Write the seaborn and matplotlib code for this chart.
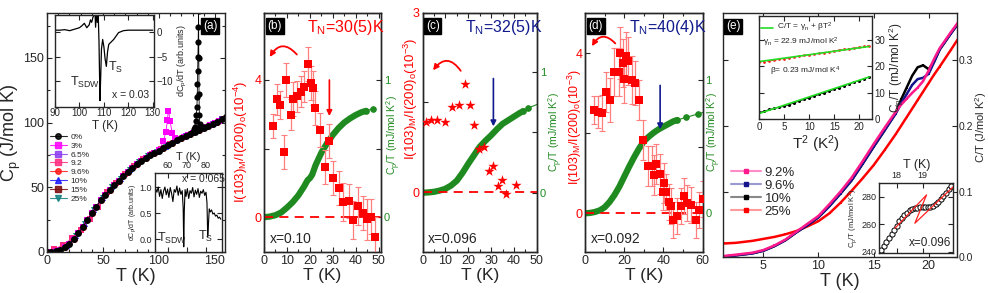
import numpy as np
import seaborn as sns
import matplotlib.pyplot as plt
from matplotlib.lines import Line2D
from matplotlib.patches import FancyArrowPatch
from matplotlib.ticker import MultipleLocator

RED = '#ff0000'
ERR = '#ff7f7f'
GREEN = '#1f8a1f'
NAVY = '#101a8c'

# ---------------- (a) Cp(T) for all dopings ----------------
t_a = [0, 2, 4, 6, 8, 10, 12, 14, 16, 18, 20, 22, 24, 26, 28, 30, 32, 34, 36, 38,
       40, 42, 44, 46, 48, 50, 52, 54, 56, 58, 60, 62, 64, 66, 68, 70, 72, 74, 76, 78,
       80, 82, 84, 86, 88, 90, 92, 94, 96, 98, 100, 102, 104, 106, 108, 110, 112, 114,
       116, 118, 120, 122, 124, 126, 128, 130, 132, 134, 136, 138, 140, 142, 144, 146,
       148, 150, 152, 154, 156, 158, 160]
cp_common = [0, 0.1, 0.2, 0.4, 0.7, 1.1, 1.8, 2.6, 3.6, 4.7, 6.0, 7.9, 10.0, 12.2, 14.5,
             17.0, 19.5, 22.0, 24.5, 27.2, 30.0, 32.5, 35.0, 37.5, 40.0, 42.0, 44.0, 46.0,
             48.0, 50.0, 52.0, 53.5, 55.0, 56.8, 58.5, 60.0, 61.5, 63.2, 65.0, 66.5, 68.0,
             69.3, 70.5, 71.8, 73.0, 74.0, 75.0, 75.8, 76.5, 77.2, 78.0, 79.3, 80.5, 81.5,
             82.5, 83.5, 84.5, 85.5, 86.5, 87.2, 88.0, 88.8, 89.5, 90.2, 91.0, 91.8, 92.5,
             93.2, 94.0, 95.0, 96.0, 96.8, 97.5, 98.2, 99.0, 100.0, 100.5, 101.5, 102.5,
             103.2, 104.0]
# 9.2 % sample deviates below 52 K
t_low92 = [0, 2, 4, 6, 8, 10, 12, 14, 16, 18, 20, 22, 24, 26, 28, 30, 32, 34, 36, 38,
           40, 42, 44, 46, 48, 50, 52]
cp_low92 = [0.8, 1.0, 1.4, 2.0, 2.8, 3.6, 4.5, 5.5, 6.6, 7.8, 9.0, 10.5, 12.0, 13.6,
            15.2, 17.0, 19.0, 21.0, 23.0, 25.2, 27.5, 30.0, 32.5, 35.0, 37.6, 40.0, 43.0]
# structural / SDW anomaly of the parent compound
t_peak0 = [128, 130, 131, 132, 133, 133.5, 133.9, 134.2, 134.4, 134.6, 134.8, 135.0,
           135.2, 135.4, 135.6, 135.8, 136.1, 136.5, 137, 138, 140]
cp_peak0 = [91.5, 93, 95, 97, 101, 106, 112, 120, 130, 140, 151, 162, 174, 186, 150,
            122, 106, 99, 96.5, 95.5, 96.5]
# anomaly of the 3 % sample
t_peak3 = [98, 100, 102, 104, 105, 106, 107, 107.5, 108, 108.5, 109, 110, 111, 112, 113,
           114, 116, 118]
cp_peak3 = [77.5, 79, 82, 86, 89, 93, 98, 102, 106, 109, 107, 101, 96, 92, 89.5, 88, 87,
            87.5]

labels_a = ['0%', '3%', '6.5%', '9.2', '9.6%', '10%', '15%', '25%']
colors_a = ['black', '#ff00ff', '#8c3cf0', '#ff2a7f', '#ff1a1a', '#1a1aff', '#7a0a0a',
            '#138080']
markers_a = ['o', 's', 's', 's', 'o', '^', 's', 'v']

# inset: dCp/dT for x = 0.03
t_in1 = [90, 92, 94, 96, 98, 100, 101, 102, 103, 104, 104.5, 105, 105.5, 106, 106.3,
         106.6, 107, 107.3, 107.6, 108, 108.4, 108.7, 109, 109.5, 110, 110.5, 111,
         111.5, 112, 113, 114, 115, 116, 118, 120, 125, 130]
dcp_in1 = [0.4, 0.4, 0.5, 0.3, 0.6, 0.9, 1.3, 1.8, 0.9, 1.5, 2.5, 2.0, 3.0, 3.5, 5.0,
           1.0, 5.0, 2.0, 5.0, -2.0, -14.0, -9.0, -3.5, -1.5, -3.0, -5.5, -7.0, -4.0,
           -2.5, -2.0, -1.5, -0.8, -0.1, 0.3, 0.4, 0.4, 0.4]

# inset: dCp/dT for x = 0.065
t_in2 = [53.5, 54.2, 54.9, 55.6, 56.3, 57.0, 57.7, 58.4, 59.1, 59.8, 60.5, 61.2, 61.9,
         62.6, 63.3, 64.0, 64.7, 65.4, 66.1, 66.8, 67.5, 68.0, 68.3, 68.6, 69.0, 69.5,
         70.2, 70.9, 71.6, 72.3, 73.0, 73.7, 74.4, 75.1, 75.8, 76.5, 77.2, 77.9, 78.6,
         79.3, 80.0, 80.5, 80.9, 81.3, 81.7, 82.2, 82.9, 83.6, 84.3, 85.0, 85.7, 86.4,
         87.1, 87.8]
dcp_in2 = [0.97, 0.9, 1.0, 0.82, 0.95, 0.78, 0.92, 1.0, 0.85, 0.96, 0.8, 0.99, 0.88,
           0.72, 0.95, 0.9, 1.02, 0.84, 0.98, 0.86, 0.93, 0.6, -0.15, 0.55, 0.95, 0.82,
           0.97, 0.78, 0.93, 0.88, 0.99, 0.81, 0.94, 0.86, 0.97, 0.8, 0.92, 0.88, 0.95,
           0.84, 0.9, 0.7, 0.05, 0.3, 0.58, 0.52, 0.56, 0.48, 0.5, 0.44, 0.46, 0.4, 0.42,
           0.38]

# ---------------- (b) x = 0.10 ----------------
t_b = [3.8, 5.6, 6.8, 8.7, 9.8, 11.6, 12.8, 14.4, 16.2, 17.6, 19.1, 20.3, 21.5, 22.2,
       24.4, 26.4, 28.3, 30.1, 32.5, 34.5, 36.9, 38.6, 41.0, 43.3, 44.8, 46.7, 48.5]
r_b = [2.66, 3.44, 3.27, 1.9, 4.0, 2.99, 3.44, 3.52, 3.66, 3.81, 4.47, 3.92, 3.76, 3.18,
       2.55, 1.46, 2.23, 1.15, 0.86, 0.44, 0.48, -0.08, 0.33, 0.12, -0.06, 0.02, -0.58]
e_b = [0.35, 0.45, 0.4, 0.5, 0.5, 0.45, 0.5, 0.45, 0.45, 0.45, 0.5, 0.5, 0.5, 0.5, 0.5,
       0.5, 0.5, 0.5, 0.5, 0.55, 0.5, 0.55, 0.55, 0.5, 0.6, 0.5, 0.6]
t_gb = [0, 2.5, 5, 7.5, 10, 12.5, 15, 17.5, 19, 20, 21, 22.5, 25, 27.5, 30, 32.5, 35,
        37.5, 40, 42.5, 44.5]
g_b = [0, 0.005, 0.015, 0.035, 0.07, 0.11, 0.16, 0.225, 0.27, 0.285, 0.31, 0.38, 0.47,
       0.54, 0.6, 0.65, 0.69, 0.72, 0.745, 0.765, 0.775]
t_gb_tail = [44.5, 47.5]
g_b_tail = [0.775, 0.79]

# ---------------- (c) x = 0.096 ----------------
t_c = [1.4, 3.9, 6.4, 9.7, 13.0, 15.9, 18.8, 20.9, 22.7, 24.9, 26.8, 29.1, 30.9, 33.0,
       34.8, 36.5, 40.9]
r_c = [1.17, 1.21, 1.2, 1.17, 1.43, 1.45, 1.8, 1.46, 1.12, 0.72, 0.76, 0.36, 0.44,
       0.105, 0.21, -0.03, 0.12]
t_gc = [0, 2.5, 5, 7.5, 10, 12.5, 15, 17.5, 20, 22.5, 25, 27.5, 30, 32.5, 35, 37.5, 40,
        42.5, 44]
g_c = [0, 0.003, 0.008, 0.018, 0.033, 0.06, 0.1, 0.165, 0.24, 0.31, 0.38, 0.43, 0.475,
       0.525, 0.57, 0.6, 0.63, 0.66, 0.675]
t_gc_tail = [44, 46, 52]
g_c_tail = [0.675, 0.7, 0.745]

# ---------------- (d) x = 0.092 ----------------
t_d = [4.7, 6.7, 8.6, 10.7, 12.8, 15.0, 17.1, 17.6, 19.3, 19.7, 20.7, 21.9, 23.8, 25.7,
       27.6, 29.4, 32.0, 34.4, 35.2, 36.1, 38.3, 39.7, 40.4, 41.4, 42.7, 43.9, 44.9,
       47.0, 48.8, 50.5, 52.2, 54.2, 56.5, 58.2, 60.0]
r_d = [2.58, 2.54, 2.52, 3.04, 2.83, 3.54, 3.54, 4.0, 3.75, 3.36, 3.93, 3.82, 3.33,
       3.27, 2.83, 1.83, 1.19, 1.19, 0.96, 1.23, 0.98, 0.54, 0.75, 0.52, 0.27, 0.17,
       -0.18, -0.08, 0.17, 0.44, 0.25, 0.21, -0.17, 0.08, 0.35]
e_d = [0.35, 0.4, 0.45, 0.5, 0.55, 0.6, 0.6, 0.65, 0.6, 0.6, 0.6, 0.6, 0.6, 0.55, 0.5,
       0.5, 0.5, 0.5, 0.5, 0.5, 0.5, 0.45, 0.5, 0.45, 0.45, 0.45, 0.45, 0.45, 0.45,
       0.45, 0.45, 0.45, 0.45, 0.45, 0.45]
t_gd = [0, 2.5, 5, 7.5, 10, 12.5, 15, 17.5, 20, 22.5, 25, 27.5, 30, 32.5, 35, 37.5, 40,
        42.5, 45, 47]
g_d = [0, 0.003, 0.01, 0.022, 0.045, 0.085, 0.137, 0.2, 0.275, 0.35, 0.42, 0.485, 0.54,
       0.575, 0.605, 0.63, 0.65, 0.67, 0.69, 0.7]
t_gd_tail = [47, 51.6, 57.4, 62]
g_d_tail = [0.7, 0.72, 0.745, 0.765]

# ---------------- (e) C/T at low T ----------------
t_e = [1.4, 2.5, 4, 5, 6, 7, 8, 9, 10, 11, 12, 13, 14, 15, 16, 17, 17.5, 18, 18.5, 19,
       19.5, 20, 20.5, 21, 22, 22.7]
c_92 = [0.002, 0.004, 0.007, 0.011, 0.018, 0.027, 0.039, 0.051, 0.063, 0.081, 0.1,
        0.121, 0.146, 0.172, 0.197, 0.221, 0.232, 0.241, 0.25, 0.258, 0.268, 0.284,
        0.302, 0.318, 0.342, 0.358]
c_96 = [0.001, 0.003, 0.006, 0.01, 0.017, 0.026, 0.038, 0.049, 0.061, 0.078, 0.097,
        0.117, 0.142, 0.168, 0.193, 0.218, 0.234, 0.248, 0.262, 0.271, 0.273, 0.279,
        0.297, 0.316, 0.34, 0.356]
c_10 = [0.001, 0.003, 0.006, 0.01, 0.017, 0.026, 0.038, 0.049, 0.061, 0.078, 0.097,
        0.117, 0.142, 0.168, 0.193, 0.22, 0.24, 0.258, 0.276, 0.289, 0.292, 0.286,
        0.298, 0.316, 0.34, 0.356]
c_25 = [0.021, 0.022, 0.025, 0.028, 0.031, 0.035, 0.04, 0.047, 0.055, 0.067, 0.083,
        0.101, 0.12, 0.14, 0.163, 0.187, 0.2, 0.213, 0.226, 0.239, 0.252, 0.265, 0.278,
        0.29, 0.315, 0.333]
labels_e = ['9.2%', '9.6%', '10%', '25%']
colors_e = ['#ff1a8c', '#14148c', 'black', '#ff0000']
light_e = ['#ff8cc6', '#9a9ad0', '#888888', '#ff9a9a']

# inset: C/T vs T^2
t2_in = [0, 1, 2, 3, 4, 5, 6, 7, 8, 9, 10, 11, 12, 13, 14, 15, 16, 17, 18, 19, 20, 21, 22]
ct_lo = [2.6, 3.1, 3.7, 4.1, 4.5, 4.9, 5.5, 6.2, 6.9, 7.5, 8.1, 8.7, 9.4, 10.0, 10.6,
         11.3, 12.0, 12.6, 13.3, 14.0, 14.6, 15.3, 16.0]
ct_hi = [21.5, 21.8, 22.1, 22.3, 22.6, 22.9, 23.2, 23.5, 23.8, 24.1, 24.3, 24.6, 24.9,
         25.2, 25.5, 25.8, 26.1, 26.4, 26.7, 26.9, 27.2, 27.5, 27.8]
fit_t2 = [0, 22]
fit_lo = [2.2, 16.0]
fit_hi = [21.8, 27.5]

# inset: transition of x = 0.096
t_tr = [17.38, 17.5, 17.6, 17.7, 17.8, 17.9, 18.0, 18.1, 18.2, 18.3, 18.4, 18.5, 18.6,
        18.7, 18.8, 18.9, 19.0, 19.1, 19.2, 19.3, 19.4, 19.5, 19.6, 19.7, 19.8, 19.9,
        20.0, 20.1]
ct_tr = [241.1, 244, 247, 250, 253, 256, 259, 262, 264.5, 266.5, 268.5, 270, 271, 271.5,
         272, 272.3, 272.3, 272.3, 272.3, 272.5, 273.5, 275, 276.5, 278.5, 280.5, 283,
         285.5, 288]
t_fit_tr = [17.93, 19.15, 18.7, 20.18]
ct_fit_tr = [257.0, 281.3, 260.7, 287.3]

W, H = 988.0, 293.0


def rect(x0, y0, x1, y1):
    return [x0 / W, 1 - y1 / H, (x1 - x0) / W, (y1 - y0) / H]


def ticks_in(ax, size=9, **kw):
    ax.tick_params(direction='in', which='both', labelsize=size, length=3.5, width=0.8,
                   pad=2, **kw)
    ax.tick_params(which='minor', length=2)
    for s in ax.spines.values():
        s.set_linewidth(1.0)


def tag(ax, text, x, y):
    ax.text(x, y, text, transform=ax.transAxes, color='white', fontsize=8.5,
            ha='left', va='center',
            bbox=dict(facecolor='black', edgecolor='black', pad=1.2))


def curved_arrow(ax, start, end, color, rad=0.75):
    ax.add_patch(FancyArrowPatch(start, end, connectionstyle=f'arc3,rad={rad}',
                                 arrowstyle='-|>', mutation_scale=8, color=color,
                                 lw=1.3, transform=ax.transData))


def down_arrow(ax, x, y0, y1, color):
    ax.annotate('', xy=(x, y1), xytext=(x, y0),
                arrowprops=dict(arrowstyle='-|>', color=color, lw=1.2,
                                mutation_scale=8, shrinkA=0, shrinkB=0))


def neutron_panel(box, xlim, ylim, ylim_g, yticks, ylbl, t, r, err, star,
                  t_g, g, t_tail, g_tail, tagtxt, tn, tn_color, xtxt):
    ax = fig.add_axes(rect(*box))
    ax.axhline(0, color=RED, ls=(0, (5, 3.5)), lw=1.3, zorder=1)
    if err is not None:
        ax.errorbar(t, r, yerr=err, fmt='none', ecolor=ERR, elinewidth=0.9,
                    capsize=2, capthick=0.8, zorder=2)
    if star:
        sns.scatterplot(x=t, y=r, ax=ax, marker='*', color=RED, s=60, linewidth=0,
                        zorder=3)
    else:
        sns.scatterplot(x=t, y=r, ax=ax, marker='s', color=RED, s=26, linewidth=0,
                        zorder=3)
    ax.set_xlim(*xlim)
    ax.set_ylim(*ylim)
    ax.set_yticks(yticks)
    ax.set_yticklabels(['0', '', f'{yticks[-1]:g}'], color=RED)
    ax.set_ylabel(ylbl, color=RED, fontsize=9.5)
    ax.set_xlabel('T (K)', fontsize=12.5, labelpad=1)

    ax2 = ax.twinx()
    sns.lineplot(x=t_g, y=g, ax=ax2, color=GREEN, lw=4.5, estimator=None, sort=False,
                 solid_capstyle='round')
    sns.lineplot(x=t_tail, y=g_tail, ax=ax2, color=GREEN, lw=0.8, marker='o', ms=4,
                 mec=GREEN, estimator=None, sort=False)
    ax2.set_ylim(*ylim_g)
    ax2.set_yticks([0, 0.5, 1])
    ax2.set_yticklabels(['0', '', '1'], color=GREEN, fontsize=8)
    ax2.set_ylabel(r'C$_p$/T (mJ/mol K$^2$)', color=GREEN, fontsize=7.5)
    ticks_in(ax, top=True, right=False)
    ticks_in(ax2, size=8, right=True)
    ax.set_zorder(ax2.get_zorder() + 1)
    ax.patch.set_visible(False)

    tag(ax, tagtxt, 0.03, 0.944)
    ax.text(0.37, 0.94, tn, transform=ax.transAxes, color=tn_color, fontsize=11.5,
            ha='left', va='center')
    ax.text(0.05, 0.055, xtxt, transform=ax.transAxes, fontsize=10, ha='left',
            va='center')
    return ax, ax2


sns.set_theme(style='ticks')
plt.rcParams['font.family'] = ['Liberation Sans', 'DejaVu Sans']
plt.rcParams['mathtext.default'] = 'regular'

fig = plt.figure(figsize=(9.88, 2.93), dpi=100)

# ---------- panel (a) ----------
ax_a = fig.add_axes(rect(47, 12.7, 225, 252))
t_arr = np.array(t_a)
cp_arr = np.array(cp_common)
for k in reversed(range(8)):
    if k == 1:
        tx = list(t_arr[t_arr < 98]) + t_peak3 + list(t_arr[t_arr > 118])
        cy = list(cp_arr[t_arr < 98]) + cp_peak3 + list(cp_arr[t_arr > 118])
    elif k == 3:
        tx = t_low92 + list(t_arr[t_arr > 52])
        cy = cp_low92 + list(cp_arr[t_arr > 52])
    elif k == 7:
        tx, cy = list(t_arr[t_arr >= 12]), list(cp_arr[t_arr >= 12])
    else:
        tx, cy = t_a, cp_common
    sns.lineplot(x=tx, y=cy, ax=ax_a, color=colors_a[k], marker=markers_a[k], ms=5,
                 mew=0, lw=0.6, markevery=(k % 4, 4) if k not in (0, 1) else 2,
                 estimator=None, sort=False)
sns.lineplot(x=t_peak0, y=cp_peak0, ax=ax_a, color='black', marker='o', ms=4.5, mew=0,
             lw=0.6, estimator=None, sort=False)
ax_a.set_xlim(0, 159)
ax_a.set_ylim(0, 185)
ax_a.set_xticks([0, 50, 100, 150])
ax_a.set_yticks([0, 50, 100, 150])
ax_a.xaxis.set_minor_locator(MultipleLocator(10))
ax_a.yaxis.set_minor_locator(MultipleLocator(25))
ticks_in(ax_a, top=True, right=True)
ax_a.set_xlabel('T (K)', fontsize=13, labelpad=1)
ax_a.set_ylabel(r'C$_p$ (J/mol K)', fontsize=13)
ax_a.yaxis.set_label_coords(-0.135, 0.5)
tag(ax_a, '(a)', 0.875, 0.944)
handles = [Line2D([], [], color=colors_a[k], marker=markers_a[k], ms=4, lw=0.8,
                  alpha=0.85) for k in range(8)]
ax_a.legend(handles, labels_a, loc='upper left', bbox_to_anchor=(0.015, 0.497),
            frameon=False, fontsize=6, handlelength=2.1, handletextpad=0.4,
            labelspacing=0.12, borderaxespad=0, borderpad=0)

# inset x = 0.03
ia1 = fig.add_axes(rect(55, 15, 154, 107))
sns.lineplot(x=t_in1, y=dcp_in1, ax=ia1, color='black', lw=0.9, estimator=None,
             sort=False)
ia1.set_xlim(90, 130.5)
ia1.set_ylim(-15.3, 3.5)
ia1.set_xticks([90, 100, 110, 120, 130])
ia1.set_yticks([0, -5, -10])
ia1.yaxis.tick_right()
ia1.yaxis.set_label_position('right')
ticks_in(ia1, size=7, top=True, left=True)
ia1.tick_params(axis='x', pad=1)
ia1.set_xlabel('T (K)', fontsize=8.5, labelpad=1)
ia1.set_ylabel(r'dC$_p$/dT (arb.units)', fontsize=6.5, labelpad=2)
ia1.text(96.3, -10.2, r'T$_{SDW}$', fontsize=9, ha='left', va='center')
ia1.text(111.8, -7.3, r'T$_S$', fontsize=9, ha='left', va='center')
ia1.text(113.5, -12.9, 'x = 0.03', fontsize=7.5, ha='left', va='center')

# inset x = 0.065
ia2 = fig.add_axes(rect(155, 173, 222, 252))
sns.lineplot(x=t_in2, y=dcp_in2, ax=ia2, color='black', lw=0.8, estimator=None,
             sort=False)
ia2.set_xlim(53.2, 88.4)
ia2.set_ylim(-0.25, 1.27)
ia2.set_xticks([60, 70, 80])
ia2.set_yticks([0, 0.5, 1.0])
ia2.set_yticklabels(['0.0', '0.5', '1.0'])
ia2.xaxis.tick_top()
ia2.xaxis.set_label_position('top')
ticks_in(ia2, size=6.5, right=True, bottom=True)
ia2.set_xlabel('T (K)', fontsize=8, labelpad=1)
ia2.set_ylabel(r'dC$_p$/dT (arb.units)', fontsize=5, labelpad=1)
ia2.text(67.3, 1.15, 'x = 0.065', fontsize=7.5, ha='left', va='center')
ia2.text(54.0, 0.02, r'T$_{SDW}$', fontsize=9, ha='left', va='center')
ia2.text(75.8, 0.05, r'T$_S$', fontsize=9, ha='left', va='center')

# ---------- panel (b) ----------
ax_b, ax_b2 = neutron_panel((264, 12.7, 381, 252), (0, 51), (-1.01, 5.96),
                            (-0.253, 1.49), [0, 2, 4],
                            r'I(103)$_M$/I(200)$_o$(10$^{-4}$)', t_b, r_b, e_b, False,
                            t_gb, g_b, t_gb_tail, g_b_tail, '(b)', r'T$_N$=30(5)K',
                            RED, 'x=0.10')
ax_b.xaxis.set_major_locator(MultipleLocator(10))
ax_b.xaxis.set_minor_locator(MultipleLocator(5))
ax_b.yaxis.set_label_coords(-0.12, 0.46)
ax_b2.yaxis.set_label_coords(1.03, 0.49)
curved_arrow(ax_b, (15.1, 4.68), (1.9, 4.6), RED)
down_arrow(ax_b, 28.5, 4.0, 2.95, RED)

# ---------- panel (c) ----------
ax_c, ax_c2 = neutron_panel((422.5, 12.7, 537.3, 252), (0, 50.2), (-1.0, 3.0),
                            (-0.49, 1.49), [0, 1.5, 3],
                            r'I(103)$_M$/I(200)$_o$(10$^{-3}$)', t_c, r_c, None, True,
                            t_gc, g_c, t_gc_tail, g_c_tail, '(c)', r'T$_N$=32(5)K',
                            NAVY, 'x=0.096')
ax_c.xaxis.set_major_locator(MultipleLocator(10))
ax_c.xaxis.set_minor_locator(MultipleLocator(5))
ax_c.yaxis.set_label_coords(-0.02, 0.64)
ax_c2.yaxis.set_label_coords(1.085, 0.5)
curved_arrow(ax_c, (17.4, 1.99), (3.9, 2.0), RED)
down_arrow(ax_c, 31, 1.9, 1.1, NAVY)

# ---------- panel (d) ----------
ax_d, ax_d2 = neutron_panel((585, 12.7, 702.7, 252), (0, 60), (-0.97, 5.02),
                            (-0.29, 1.505), [0, 2, 4],
                            r'I(103)$_M$/I(200)$_o$(10$^{-3}$)', t_d, r_d, e_d, False,
                            t_gd, g_d, t_gd_tail, g_d_tail, '(d)', r'T$_N$=40(4)K',
                            NAVY, 'x=0.092')
ax_d.set_ylabel(r'I(103)$_M$/I(200)$_o$(10$^{-3}$)', color=RED, fontsize=9)
ax_d.xaxis.set_major_locator(MultipleLocator(20))
ax_d.xaxis.set_minor_locator(MultipleLocator(10))
ax_d.yaxis.set_label_coords(-0.005, 0.52)
ax_d2.yaxis.set_label_coords(1.02, 0.5)
curved_arrow(ax_d, (16.4, 4.2), (2.9, 4.12), RED)
down_arrow(ax_d, 38.3, 3.2, 2.1, NAVY)

# ---------- panel (e) ----------
ax_e = fig.add_axes(rect(723.3, 12.7, 957.3, 257.3))
for cvals, col in zip([c_25, c_10, c_96, c_92], ['#ff0000', 'black', '#14148c',
                                                  '#ff1a8c']):
    sns.lineplot(x=t_e, y=cvals, ax=ax_e, color=col, lw=1.8, marker='s', ms=1.8,
                 mew=0, estimator=None, sort=False)
ax_e.set_xlim(1.36, 22.6)
ax_e.set_ylim(0, 0.372)
ax_e.set_xticks([5, 10, 15, 20])
ax_e.set_yticks([0.0, 0.1, 0.2, 0.3])
ax_e.set_yticklabels(['0.0', '0.1', '0.2', '0.3'])
ax_e.yaxis.tick_right()
ax_e.yaxis.set_label_position('right')
ticks_in(ax_e, top=True, left=True)
ax_e.tick_params(axis='y', labelsize=7.5, pad=1)
ax_e.set_xlabel('T (K)', fontsize=13, labelpad=1)
ax_e.set_ylabel(r'C/T (J/mol K$^2$)', fontsize=8)
ax_e.yaxis.set_label_coords(1.069, 0.53)
tag(ax_e, '(e)', 0.012, 0.944)
handles_e = [Line2D([], [], color=light_e[k], lw=1.5, marker='s', ms=2.8,
                    mfc=colors_e[k], mec=colors_e[k]) for k in range(4)]
ax_e.legend(handles_e, labels_e, loc='upper left', bbox_to_anchor=(0.035, 0.37),
            frameon=False, fontsize=9.5, handlelength=2.2, handletextpad=0.3,
            labelspacing=0.05, borderaxespad=0, borderpad=0)

# inset C/T vs T^2
ie1 = fig.add_axes(rect(759.3, 16, 871.7, 119.3))
sns.lineplot(x=t2_in, y=ct_hi, ax=ie1, color='#ff2020', lw=0.8, ls=(0, (2, 1.5)),
             marker='o', ms=2, mew=0, estimator=None, sort=False)
sns.lineplot(x=t2_in, y=ct_lo, ax=ie1, color='black', lw=0.6, marker='o', ms=2.2,
             mew=0, estimator=None, sort=False)
sns.lineplot(x=fit_t2, y=fit_hi, ax=ie1, color='#22dd22', lw=1.2, estimator=None)
sns.lineplot(x=fit_t2, y=fit_lo, ax=ie1, color='#22dd22', lw=1.2, estimator=None)
ie1.set_xlim(0, 22.5)
ie1.set_ylim(0, 39)
ie1.set_xticks([0, 5, 10, 15, 20])
ie1.set_yticks([0, 10, 20, 30])
ie1.yaxis.tick_right()
ie1.yaxis.set_label_position('right')
ticks_in(ie1, size=7, top=True, left=True)
ie1.set_xlabel(r'T$^2$ (K$^2$)', fontsize=11, labelpad=1)
ie1.set_ylabel(r'C$_p$/T (mJ/mol K$^2$)', fontsize=8.5, labelpad=1)
ie1.plot([0.3, 2.8], [34.6, 34.6], color='#22dd22', lw=1.2)
ie1.text(3.6, 34.6, r'C/T = $\gamma_n$ + $\beta$T$^2$', fontsize=6, ha='left',
         va='center')
ie1.text(0.7, 29.2, r'$\gamma_n$ = 22.9 mJ/mol K$^2$', fontsize=6, ha='left',
         va='center')
ie1.text(2.1, 18.1, r'$\beta$= 0.23 mJ/mol K$^4$', fontsize=6, ha='left', va='center')

# inset transition
ie2 = fig.add_axes(rect(879.3, 182.7, 953.3, 253.3))
sns.lineplot(x=t_fit_tr, y=ct_fit_tr, ax=ie2, color='#ff2020', lw=0.9, estimator=None,
             sort=False, zorder=3)
sns.scatterplot(x=t_tr, y=ct_tr, ax=ie2, color='white', edgecolor='black', s=14,
                linewidth=0.7, zorder=2)
ie2.set_xlim(17.33, 20.18)
ie2.set_ylim(238.8, 290.2)
ie2.set_xticks([18, 19])
ie2.set_yticks([240, 260, 280])
ie2.xaxis.tick_top()
ie2.xaxis.set_label_position('top')
ticks_in(ie2, size=6.5, bottom=True, right=True)
ie2.set_xlabel('T (K)', fontsize=9, labelpad=2)
ie2.set_ylabel(r'C$_p$/T (mJ/mol K$^2$)', fontsize=5.5, labelpad=1)
ie2.text(0.4, 0.15, 'x=0.096', transform=ie2.transAxes, fontsize=8.5, ha='left',
         va='center')

fig.savefig('out.png', dpi=100)
